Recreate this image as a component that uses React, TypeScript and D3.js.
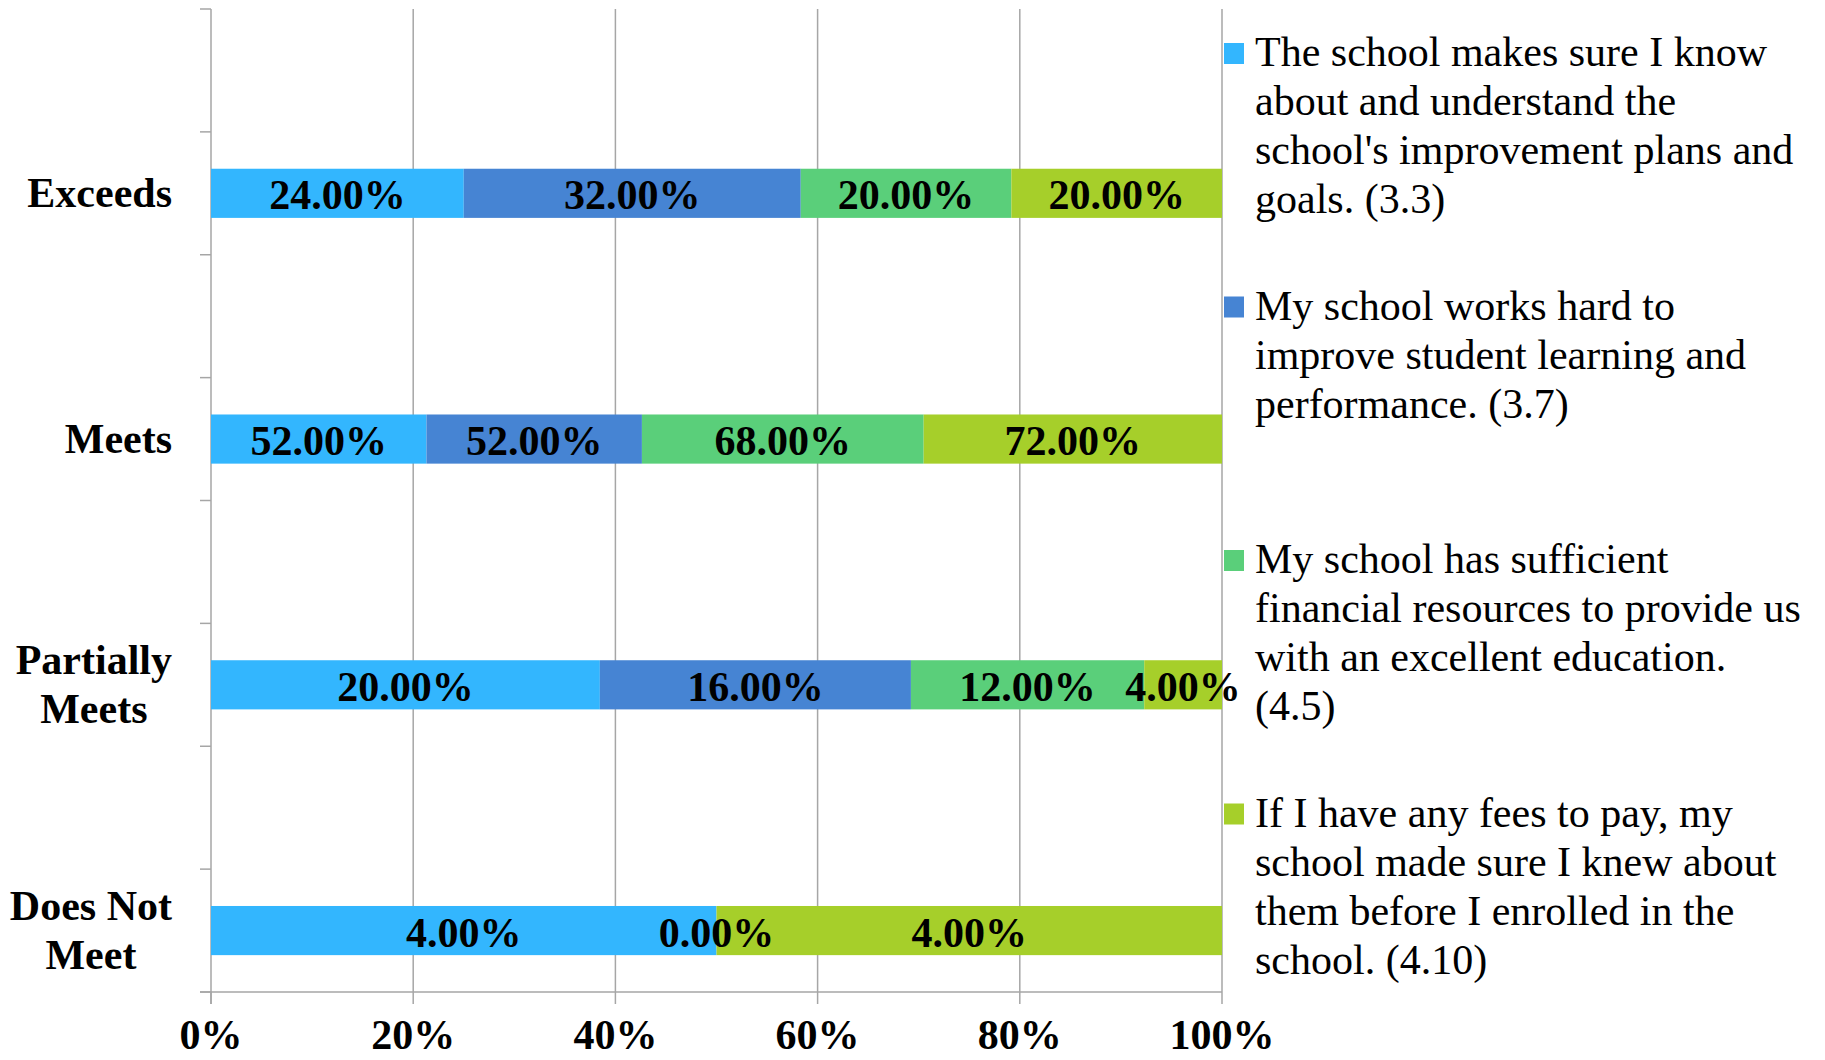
import React from "react";
import * as d3 from "d3";

// categories top to bottom
const categories = ["Exceeds", "Meets", "Partially Meets", "Does Not Meet"];
const categoryLines = [["Exceeds"], ["Meets"], ["Partially", "Meets"], ["Does Not", "Meet"]];

// legend text, already broken into lines like the original
const seriesNames = [
  ["The school makes sure I know", "about and understand the", "school's improvement plans and", "goals. (3.3)"],
  ["My school works hard to", "improve student learning and", "performance. (3.7)"],
  ["My school has sufficient", "financial resources to provide us", "with an excellent education.", "(4.5)"],
  ["If I have any fees to pay, my", "school made sure I knew about", "them before I enrolled in the", "school. (4.10)"],
];
const seriesColors = ["#33b6fe", "#4684d3", "#5acf7a", "#a6cf2a"];

// values (percent) per category, one array per series
const knowPlans = [24, 52, 20, 4];
const worksHard = [32, 52, 16, 0];
const resources = [20, 68, 12, null];
const fees = [20, 72, 4, 4];
const seriesValues = [knowPlans, worksHard, resources, fees];

const xTicks = [0, 20, 40, 60, 80, 100];

const W = 1825;
const H = 1060;
const FONT = "'Liberation Serif', 'Times New Roman', serif";

function measure(text: string, font: string) {
  const ctx = document.createElement("canvas").getContext("2d")!;
  ctx.font = font;
  return ctx.measureText(text).width;
}

export default function App() {
  const left = 211, right = 1222, top = 9, bottom = 992;

  const x = d3.scaleLinear().domain([0, 100]).range([left, right]);
  const y = d3.scaleBand().domain(categories).range([top, bottom]).paddingInner(0).paddingOuter(0);
  // bars sit in the lower half of each category band (empty slot above, as in the original)
  const slot = d3.scaleBand().domain(["empty", "bar"]).range([0, y.bandwidth()]);
  const barH = y.bandwidth() * 0.2;
  const barMid = (c: string) => y(c)! + slot("bar")! + slot.bandwidth() / 2;

  // each row is drawn as 100% of its own total
  const rows = categories.map((c, ci) => {
    const vals = seriesValues.map((s) => s[ci]);
    const total = d3.sum(vals, (v) => v ?? 0);
    let acc = 0;
    return vals.map((v, si) => {
      const x0 = acc;
      acc += ((v ?? 0) / total) * 100;
      return { cat: c, series: si, value: v, x0, x1: acc };
    });
  });

  // y axis ticks at each half band
  const yTicks = d3.range(0, categories.length * 2 + 1).map((i) => top + (i * y.step()) / 2);

  const legendY = d3.scalePoint().domain(d3.range(seriesNames.length).map(String)).range([66, 826.5]);

  const catFont = `bold 42px ${FONT}`;

  return (
    <svg width={W} height={H} style={{ position: "absolute", left: 0, top: 0, background: "#fff" }} fontFamily={FONT}>
      {/* gridlines */}
      {xTicks.slice(1).map((t) => (
        <line key={"g" + t} x1={x(t)} x2={x(t)} y1={top} y2={bottom} stroke="#a6a6a6" strokeWidth={1.5} />
      ))}
      {/* y axis */}
      <line x1={left} x2={left} y1={top} y2={bottom + 12} stroke="#a6a6a6" strokeWidth={1.5} />
      {yTicks.map((t, i) => (
        <line key={"yt" + i} x1={left - 11} x2={left} y1={t} y2={t} stroke="#a6a6a6" strokeWidth={1.5} />
      ))}
      {/* x axis */}
      <line x1={left - 11} x2={right} y1={bottom} y2={bottom} stroke="#a6a6a6" strokeWidth={1.5} />
      {xTicks.map((t) => (
        <line key={"xt" + t} x1={x(t)} x2={x(t)} y1={bottom} y2={bottom + 12} stroke="#a6a6a6" strokeWidth={1.5} />
      ))}
      {xTicks.map((t) => (
        <text key={"xl" + t} x={x(t)} y={1035} textAnchor="middle" dominantBaseline="central" fontWeight="bold" fontSize={42}>
          {t + "%"}
        </text>
      ))}

      {/* bars */}
      {rows.map((row) =>
        row.map((d) =>
          d.value == null || d.x1 - d.x0 <= 0 ? null : (
            <rect
              key={d.cat + d.series}
              x={x(d.x0)}
              width={x(d.x1) - x(d.x0)}
              y={barMid(d.cat) - barH / 2}
              height={barH}
              fill={seriesColors[d.series]}
            />
          )
        )
      )}
      {/* data labels */}
      {rows.map((row) =>
        row.map((d) =>
          d.value == null ? null : (
            <text
              key={"l" + d.cat + d.series}
              x={x((d.x0 + d.x1) / 2)}
              y={barMid(d.cat) + 2}
              textAnchor="middle"
              dominantBaseline="central"
              fontWeight="bold"
              fontSize={42}
            >
              {d.value.toFixed(2) + "%"}
            </text>
          )
        )
      )}

      {/* category labels */}
      {categories.map((c, ci) => {
        const lines = categoryLines[ci];
        const maxW = d3.max(lines, (l) => measure(l, catFont)) ?? 0;
        const cx = 172 - maxW / 2;
        const cy = barMid(c);
        return lines.map((l, li) => (
          <text
            key={c + li}
            x={cx}
            y={cy + (li - (lines.length - 1) / 2) * 49}
            textAnchor="middle"
            dominantBaseline="central"
            fontWeight="bold"
            fontSize={42}
          >
            {l}
          </text>
        ));
      })}

      {/* legend */}
      {seriesNames.map((lines, si) => {
        const base = legendY(String(si))!;
        return (
          <g key={"lg" + si}>
            <rect x={1224} y={base - 23} width={20} height={21} fill={seriesColors[si]} />
            {lines.map((l, li) => (
              <text key={li} x={1255} y={base + li * 49} fontSize={42}>
                {l}
              </text>
            ))}
          </g>
        );
      })}
    </svg>
  );
}
